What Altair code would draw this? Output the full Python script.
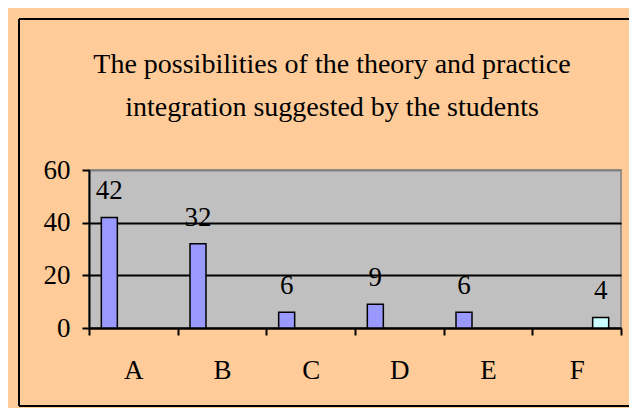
import altair as alt
import pandas as pd

# ---- data ----
categories = ["A", "B", "C", "D", "E", "F"]
values = [42, 32, 6, 9, 6, 4]
series = ["s1", "s1", "s1", "s1", "s1", "s4"]
series_domain = ["s1", "s2", "s3", "s4"]
series_colors = ["#9999FF", "#993366", "#FFFFCC", "#CCFFFF"]
y_ticks = [0, 20, 40, 60]
title_lines = ["The possibilities of the theory and practice",
               "integration suggested by the students"]

df = pd.DataFrame({"cat": categories, "value": values, "series": series})
one_row = pd.DataFrame({"f": [0]})

FONT = "Times New Roman, Liberation Serif, DejaVu Serif, serif"

x_enc = alt.X(
    "cat:N",
    scale=alt.Scale(domain=categories, paddingInner=0, paddingOuter=0),
    axis=alt.Axis(
        title=None, labelAngle=0, tickBand="extent", tickSize=7,
        labelPadding=43, labelBaseline="alphabetic", grid=False,
        labelFont=FONT,
    ),
)
xo_enc = alt.XOffset(
    "series:N",
    scale=alt.Scale(domain=series_domain, paddingInner=0, paddingOuter=0.771),
)
y_enc = alt.Y(
    "value:Q",
    scale=alt.Scale(domain=[0, 60], nice=False, zero=True),
    axis=alt.Axis(
        title=None, values=y_ticks, tickSize=7, labelPadding=12,
        grid=True,
        gridColor=alt.condition("datum.value == 60", alt.value("#808080"), alt.value("black")),
        gridWidth=2, labelBaseline="middle", labelFont=FONT,
    ),
)

# chart-area border (left, top, bottom edges; the right edge lies outside the picture)
frame_left = alt.Chart(one_row).mark_rule(color="black", strokeWidth=2).encode(
    x=alt.value(-70), y=alt.value(-151), y2=alt.value(236)
)
frame_top = alt.Chart(one_row).mark_rule(color="black", strokeWidth=2).encode(
    x=alt.value(-70), x2=alt.value(700), y=alt.value(-151)
)
frame_bottom = alt.Chart(one_row).mark_rule(color="black", strokeWidth=2).encode(
    x=alt.value(-70), x2=alt.value(700), y=alt.value(236)
)

title = alt.Chart(one_row).mark_text(
    text=title_lines, font=FONT, fontSize=28, color="black",
    lineHeight=43, align="center", baseline="alphabetic",
).encode(x=alt.value(243), y=alt.value(-97))

bars = alt.Chart(df).mark_bar(stroke="black", strokeWidth=1.5).encode(
    x=x_enc,
    xOffset=xo_enc,
    y=y_enc,
    color=alt.Color("series:N",
                    scale=alt.Scale(domain=series_domain, range=series_colors),
                    legend=None),
)

labels = alt.Chart(df).mark_text(
    dy=-18, baseline="alphabetic", font=FONT, fontSize=27, color="black"
).encode(
    x=x_enc, xOffset=xo_enc, y=y_enc, text="value:Q"
)

chart = alt.layer(frame_left, frame_top, frame_bottom, title, bars, labels).properties(
    width=532,
    height=158,
    padding={"left": 81, "top": 162, "right": 8, "bottom": 80},
    autosize=alt.AutoSizeParams(type="none"),
    background="#FFCC99",
).configure_view(
    fill="#C0C0C0", stroke="#808080", strokeWidth=1.5
).configure_axis(
    domainColor="black", domainWidth=2, tickColor="black", tickWidth=2,
    labelFont=FONT, labelFontSize=27, labelColor="black",
)

chart.save("out.html", embed_options={"renderer": "svg", "actions": False})
